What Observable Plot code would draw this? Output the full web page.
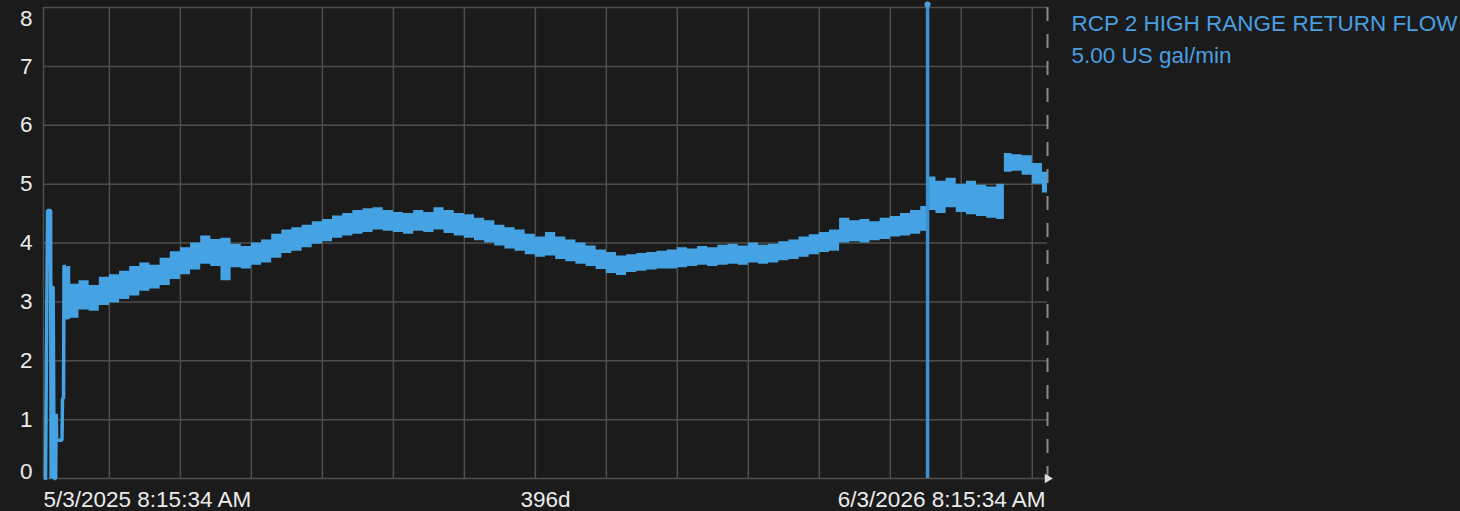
<!DOCTYPE html>
<html>
<head>
<meta charset="utf-8">
<script src="https://cdn.jsdelivr.net/npm/d3@7"></script>
<script src="https://cdn.jsdelivr.net/npm/@observablehq/plot@0.6"></script>
<style>
  html, body { margin: 0; padding: 0; background: #1b1b1b; }
</style>
</head>
<body>
<div id="chart"></div>
<script>
// ---- data ----
const seriesName = "RCP 2 HIGH RANGE RETURN FLOW";
const seriesValueText = "5.00 US gal/min";
const spanDays = 396;
const xTickLabels = ["5/3/2025 8:15:34 AM", "396d", "6/3/2026 8:15:34 AM"];
const xTickDays = [0, 198, 396];
const yTicks = [0, 1, 2, 3, 4, 5, 6, 7, 8];
const gridDays = [26, 54, 82, 110, 138, 166, 194, 222, 250, 278, 306, 334, 362, 390];

// start-up transient (day, value)
const earlyDays = [0.8, 1.6, 2.8, 3.0, 3.4, 3.8, 4.2, 4.8, 5.0, 5.2, 7.3, 7.5, 7.9, 8.1, 8.9, 9.1, 9.5];
const earlyVals = [0, 4.55, 4.55, 0, 3.25, 3.25, 0, 0, 1.1, 0.65, 0.65, 1.36, 1.36, 3.62, 3.55, 2.7, 3.3];

// noisy band envelope (day, low, high)
const bandDays = [9.5,12,16,20,24,28,32,36,40,44,48,52,56,60,64,68,72,76,80,84,88,92,96,100,104,108,112,116,120,124,128,132,136,140,144,148,152,156,160,164,168,172,176,180,184,188,192,196,200,204,208,212,216,220,224,228,232,236,240,244,248,252,256,260,264,268,272,276,280,284,288,292,296,300,304,308,312,316,320,324,328,332,336,340,344,348,350,354,358,362,366,370,374,378,380,384,388,392,396];
const bandHi = [3.60,3.30,3.36,3.28,3.42,3.46,3.52,3.60,3.66,3.62,3.74,3.85,3.92,4.00,4.12,4.06,4.08,3.98,3.94,4.00,4.05,4.15,4.22,4.26,4.30,4.36,4.40,4.46,4.50,4.55,4.58,4.60,4.55,4.52,4.50,4.55,4.52,4.60,4.55,4.50,4.48,4.42,4.38,4.30,4.26,4.22,4.15,4.10,4.18,4.10,4.05,4.00,3.95,3.88,3.84,3.78,3.80,3.82,3.84,3.86,3.88,3.92,3.90,3.94,3.92,3.96,3.98,3.95,4.00,3.96,3.98,4.02,4.05,4.10,4.14,4.18,4.22,4.42,4.38,4.40,4.36,4.42,4.45,4.50,4.55,4.62,5.12,5.05,5.10,5.00,5.05,4.98,4.95,5.00,5.52,5.50,5.48,5.35,5.20];
const bandLo = [2.70,2.72,2.86,2.84,2.94,2.98,3.04,3.10,3.18,3.22,3.28,3.38,3.46,3.54,3.64,3.60,3.36,3.58,3.56,3.62,3.66,3.74,3.82,3.86,3.92,3.98,4.02,4.08,4.12,4.15,4.18,4.22,4.20,4.18,4.15,4.20,4.18,4.22,4.16,4.12,4.08,4.04,4.00,3.95,3.90,3.86,3.80,3.76,3.78,3.72,3.68,3.64,3.60,3.55,3.48,3.45,3.50,3.52,3.54,3.56,3.56,3.58,3.60,3.62,3.60,3.62,3.64,3.62,3.66,3.64,3.66,3.70,3.72,3.76,3.80,3.84,3.86,4.00,4.02,4.00,4.04,4.06,4.10,4.12,4.15,4.20,4.55,4.50,4.60,4.52,4.48,4.45,4.42,4.40,5.20,5.22,5.15,5.00,4.85];

// isolated spike
const spikeDay = 348.7;
const spikeLo = 0;
const spikeHi = 8.05;

// ---- build tables ----
const early = earlyDays.map((d, i) => ({day: d, value: earlyVals[i]}));
const band = bandDays.map((d, i) => ({day: d, lo: bandLo[i], hi: bandHi[i]}));
const spike = [{day: spikeDay, lo: spikeLo, hi: spikeHi}];
const xLabels = xTickLabels.map((t, i) => ({day: xTickDays[i], label: t}));

const blue = "#45a3e3";
const grid = "#4e4e4e";
const labelColor = "#ececec";
const fs = 22.5;

const yMid = yTicks.filter(d => d > 0 && d < 8);
const yTop = yTicks.filter(d => d === 8);
const yBot = yTicks.filter(d => d === 0);

const chart = Plot.plot({
  width: 1460,
  height: 511,
  marginLeft: 43,
  marginRight: 413,
  marginTop: 7,
  marginBottom: 33,
  x: {domain: [0, spanDays], axis: null},
  y: {domain: [0, 8], axis: null},
  style: {background: "#1b1b1b", fontFamily: "'Liberation Sans', Arial, sans-serif", overflow: "visible"},
  marks: [
    Plot.ruleY(yTicks, {stroke: grid, strokeWidth: 1.5}),
    Plot.ruleX(gridDays, {stroke: grid, strokeWidth: 1.5}),
    Plot.ruleX([0], {stroke: grid, strokeWidth: 1.5}),
    Plot.ruleX([spanDays], {stroke: "#8a8a8a", strokeWidth: 2, strokeDasharray: "14,13"}),
    Plot.areaY(band, {x: "day", y1: "lo", y2: "hi", curve: "step", fill: blue}),
    Plot.line(early, {x: "day", y: "value", stroke: blue, strokeWidth: 3.5, strokeLinejoin: "miter"}),
    Plot.ruleX(spike, {x: "day", y1: "lo", y2: "hi", stroke: "#3d91d2", strokeWidth: 3.5}),
    Plot.dot(spike, {x: "day", y: "hi", r: 3, fill: "#4aa0dd"}),
    Plot.dot([spanDays], {x: d => d, y: () => 0, symbol: "triangle", rotate: 90, r: 3.5, fill: "#dddddd"}),
    Plot.text(yMid, {y: d => d, frameAnchor: "left", dx: -11, textAnchor: "end", lineAnchor: "middle", text: d => String(d), fill: labelColor, fontSize: fs}),
    Plot.text(yTop, {y: d => d, frameAnchor: "left", dx: -11, dy: 11, textAnchor: "end", lineAnchor: "middle", text: d => String(d), fill: labelColor, fontSize: fs}),
    Plot.text(yBot, {y: d => d, frameAnchor: "left", dx: -11, dy: -7, textAnchor: "end", lineAnchor: "middle", text: d => String(d), fill: labelColor, fontSize: fs}),
    Plot.text(xLabels.slice(0, 1), {x: "day", frameAnchor: "bottom", dy: 21, textAnchor: "start", lineAnchor: "middle", text: "label", fill: labelColor, fontSize: fs}),
    Plot.text(xLabels.slice(1, 2), {x: "day", frameAnchor: "bottom", dy: 21, textAnchor: "middle", lineAnchor: "middle", text: "label", fill: labelColor, fontSize: fs}),
    Plot.text(xLabels.slice(2, 3), {x: "day", frameAnchor: "bottom", dy: 21, dx: -2, textAnchor: "end", lineAnchor: "middle", text: "label", fill: labelColor, fontSize: fs}),
    Plot.text([seriesName], {frameAnchor: "top-right", dx: 24, dy: 16.5, textAnchor: "start", lineAnchor: "middle", text: d => d, fill: "#4a9fe0", fontSize: fs}),
    Plot.text([seriesValueText], {frameAnchor: "top-right", dx: 24, dy: 48, textAnchor: "start", lineAnchor: "middle", text: d => d, fill: "#4a9fe0", fontSize: fs})
  ]
});
document.getElementById("chart").appendChild(chart);
</script>
</body>
</html>
